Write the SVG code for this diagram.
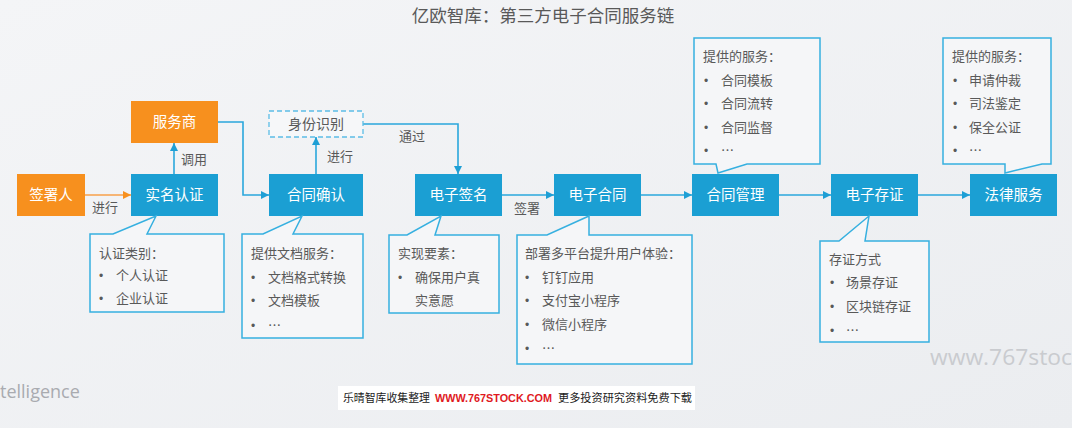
<svg xmlns="http://www.w3.org/2000/svg" width="1072" height="428" viewBox="0 0 1072 428">
<defs>
<linearGradient id="bg" x1="0" y1="0" x2="1" y2="1">
<stop offset="0" stop-color="#f4f5f7"/>
<stop offset="1" stop-color="#ebedf0"/>
</linearGradient>
<marker id="ab" viewBox="0 0 10 10" refX="10" refY="5" markerWidth="8" markerHeight="8" markerUnits="userSpaceOnUse" orient="auto">
<path d="M0,0 L10,5 L0,10 Z" fill="#1e9fd5"/>
</marker>
<marker id="ao" viewBox="0 0 10 10" refX="10" refY="5" markerWidth="8" markerHeight="8" markerUnits="userSpaceOnUse" orient="auto">
<path d="M0,0 L10,5 L0,10 Z" fill="#f7901e"/>
</marker>
<style>
text{font-family:"Noto Sans CJK SC","Liberation Sans",sans-serif;}
.blue{fill:#1b9fd3;}
.orange{fill:#f7901e;}
.nt{fill:#ffffff;font-size:14.5px;text-anchor:middle;}
.lbl{fill:#595959;font-size:13px;}
.ct{fill:#595959;font-size:13px;}
.bl{fill:#595959;font-size:12px;font-family:"Liberation Sans",sans-serif;}
.call{fill:#f5f6f8;stroke:#36b0e0;stroke-width:1.5;}
.ln{fill:none;stroke:#2aa7dc;stroke-width:1.6;marker-end:url(#ab);}
.lo{fill:none;stroke:#f7a04a;stroke-width:1.6;marker-end:url(#ao);}
.ban{font-size:11px;fill:#222222;}
</style>
</defs>
<rect x="0" y="0" width="1072" height="428" fill="url(#bg)"/>
<text x="543" y="22" text-anchor="middle" style="font-size:17.5px;fill:#595959">亿欧智库：第三方电子合同服务链</text>

<g id="connectors">
<path class="lo" d="M85,195 L131,195"/>
<text class="lbl" x="92" y="212">进行</text>
<path class="ln" d="M174,174 L174,143"/>
<text class="lbl" x="181" y="164">调用</text>
<path class="ln" d="M218,122 L243,122 L243,195 L269,195"/>
<path class="ln" d="M316,174 L316,137"/>
<text class="lbl" x="327" y="161">进行</text>
<path class="ln" d="M363,124 L458,124 L458,174"/>
<text class="lbl" x="399" y="141">通过</text>
<path class="ln" d="M502,195 L554,195"/>
<text class="lbl" x="514" y="213">签署</text>
<path class="ln" d="M641,195 L692,195"/>
<path class="ln" d="M779,195 L831,195"/>
<path class="ln" d="M918,195 L970,195"/>
</g>

<g id="n-signer"><rect class="orange" x="17" y="174" width="68" height="42"/><text class="nt" x="51" y="200">签署人</text></g>
<g id="n-realname"><rect class="blue" x="131" y="174" width="87" height="42"/><text class="nt" x="174.5" y="200">实名认证</text></g>
<g id="n-provider"><rect class="orange" x="131" y="101" width="87" height="42"/><text class="nt" x="174.5" y="127">服务商</text></g>
<g id="n-identity"><rect x="269" y="111" width="94" height="26" fill="#f6f7f9" stroke="#5cbde6" stroke-width="1.3" stroke-dasharray="5,3"/><text x="316" y="129" style="font-size:14px;fill:#595959;text-anchor:middle">身份识别</text></g>
<g id="n-confirm"><rect class="blue" x="269" y="174" width="94" height="42"/><text class="nt" x="316" y="200">合同确认</text></g>
<g id="n-esign"><rect class="blue" x="415" y="174" width="87" height="42"/><text class="nt" x="458.5" y="200">电子签名</text></g>
<g id="n-econtract"><rect class="blue" x="554" y="174" width="87" height="42"/><text class="nt" x="597.5" y="200">电子合同</text></g>
<g id="n-manage"><rect class="blue" x="692" y="174" width="87" height="42"/><text class="nt" x="735.5" y="200">合同管理</text></g>
<g id="n-evidence"><rect class="blue" x="831" y="174" width="87" height="42"/><text class="nt" x="874.5" y="200">电子存证</text></g>
<g id="n-legal"><rect class="blue" x="970" y="174" width="87" height="42"/><text class="nt" x="1013.5" y="200">法律服务</text></g>

<g id="c-realname">
<path class="call" d="M90,234 L113,234 L156,216 L147,234 L224,234 L224,312 L90,312 Z"/>
<text class="ct" x="99" y="258">认证类别：</text>
<text class="bl" x="99" y="280">•</text><text class="ct" x="116" y="280">个人认证</text>
<text class="bl" x="99" y="303">•</text><text class="ct" x="116" y="303">企业认证</text>
</g>
<g id="c-confirm">
<path class="call" d="M242,234 L263,234 L302,216 L293,234 L363,234 L363,338 L242,338 Z"/>
<text class="ct" x="251" y="258">提供文档服务：</text>
<text class="bl" x="251" y="282">•</text><text class="ct" x="268" y="282">文档格式转换</text>
<text class="bl" x="251" y="305">•</text><text class="ct" x="268" y="305">文档模板</text>
<text class="bl" x="251" y="330">•</text><text class="ct" x="268" y="330">…</text>
</g>
<g id="c-esign">
<path class="call" d="M389,235 L407,235 L441,216 L435,235 L499,235 L499,313 L389,313 Z"/>
<text class="ct" x="398" y="258">实现要素：</text>
<text class="bl" x="398" y="282">•</text><text class="ct" x="415" y="282">确保用户真</text>
<text class="ct" x="415" y="305">实意愿</text>
</g>
<g id="c-econtract">
<path class="call" d="M517,235 L547,235 L589,216 L589,235 L692,235 L692,364 L517,364 Z"/>
<text class="ct" x="525" y="258">部署多平台提升用户体验：</text>
<text class="bl" x="525" y="282">•</text><text class="ct" x="542" y="282">钉钉应用</text>
<text class="bl" x="525" y="305">•</text><text class="ct" x="542" y="305">支付宝小程序</text>
<text class="bl" x="525" y="329">•</text><text class="ct" x="542" y="329">微信小程序</text>
<text class="bl" x="525" y="353">•</text><text class="ct" x="542" y="353">…</text>
</g>
<g id="c-manage">
<path class="call" d="M694,38 L820,38 L820,164 L747,164 L718,173 L716,164 L694,164 Z"/>
<text class="ct" x="703" y="61">提供的服务：</text>
<text class="bl" x="704" y="85">•</text><text class="ct" x="721" y="85">合同模板</text>
<text class="bl" x="704" y="108">•</text><text class="ct" x="721" y="108">合同流转</text>
<text class="bl" x="704" y="132">•</text><text class="ct" x="721" y="132">合同监督</text>
<text class="bl" x="704" y="155">•</text><text class="ct" x="721" y="155">…</text>
</g>
<g id="c-evidence">
<path class="call" d="M820,241 L839,241 L869,216 L865,241 L929,241 L929,342 L820,342 Z"/>
<text class="ct" x="829" y="264">存证方式</text>
<text class="bl" x="830" y="287">•</text><text class="ct" x="846" y="287">场景存证</text>
<text class="bl" x="830" y="311">•</text><text class="ct" x="846" y="311">区块链存证</text>
<text class="bl" x="830" y="335">•</text><text class="ct" x="846" y="335">…</text>
</g>
<g id="c-legal">
<path class="call" d="M943,38 L1051,38 L1051,164 L1042,164 L1005,173 L1005,164 L943,164 Z"/>
<text class="ct" x="952" y="61">提供的服务：</text>
<text class="bl" x="953" y="85">•</text><text class="ct" x="969" y="85">申请仲裁</text>
<text class="bl" x="953" y="108">•</text><text class="ct" x="969" y="108">司法鉴定</text>
<text class="bl" x="953" y="132">•</text><text class="ct" x="969" y="132">保全公证</text>
<text class="bl" x="953" y="155">•</text><text class="ct" x="969" y="155">…</text>
</g>

<text x="930" y="365" textLength="142" lengthAdjust="spacingAndGlyphs" style="font-size:22px;fill:#c9cbcf;font-family:'Open Sans','Liberation Sans',sans-serif">www.767stoc</text>
<text x="0" y="398" style="font-size:18px;fill:#a9abb0;font-family:'Open Sans','Liberation Sans',sans-serif">telligence</text>
<rect x="338" y="386" width="357" height="24" fill="#ffffff"/>
<text class="ban" x="343" y="402" textLength="87" lengthAdjust="spacingAndGlyphs">乐晴智库收集整理</text>
<text x="435" y="402" textLength="117" lengthAdjust="spacingAndGlyphs" style="font-size:11.5px;fill:#e0191e;font-weight:bold;font-family:'Liberation Sans',sans-serif">WWW.767STOCK.COM</text>
<text class="ban" x="558" y="402" textLength="134" lengthAdjust="spacingAndGlyphs">更多投资研究资料免费下载</text>
</svg>
